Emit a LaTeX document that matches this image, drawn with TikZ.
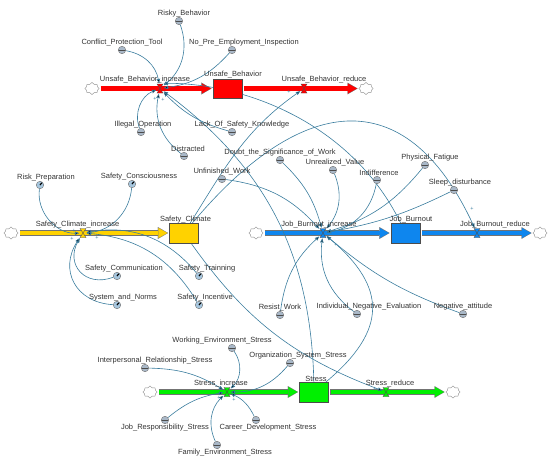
\documentclass[tikz,border=0pt]{standalone}
\usepackage{fontspec}
\setmainfont{Liberation Sans}
\usetikzlibrary{arrows.meta, shapes.symbols}

\definecolor{linkc}{HTML}{3A7D9E}
\definecolor{redc}{HTML}{FF0000}
\definecolor{yelc}{HTML}{FFD200}
\definecolor{bluc}{HTML}{0E86EE}
\definecolor{grnc}{HTML}{00F000}
\definecolor{auxc}{HTML}{A9B8C8}
\definecolor{shdc}{HTML}{A6C6DE}

\pgfdeclarelayer{pipes}
\pgfdeclarelayer{links}
\pgfsetlayers{pipes,links,main}

\tikzset{
  every label/.style={font=\fontsize{7.5}{9}\selectfont, text=black!80, inner sep=0pt},
  auxv/.style={circle, draw=black!55, fill=auxc, line width=0.4pt, minimum size=7.5pt, inner sep=0pt, label distance=5pt,
    path picture={\draw[black!70, line width=0.7pt] (path picture bounding box.west) -- (path picture bounding box.east);}},
  shdw/.style={circle, draw=black!55, fill=shdc, line width=0.4pt, minimum size=7.5pt, inner sep=0pt, label distance=4.5pt,
    path picture={\draw[black, line width=1.2pt] (path picture bounding box.center) -- ++(50:3pt);}},
  stock/.style={rectangle, draw=black!70, fill=#1, line width=0.5pt, minimum width=29pt, minimum height=19.5pt, inner sep=0pt},
  valve/.style={rectangle, inner sep=0pt, minimum width=7pt, minimum height=10pt,
    path picture={\filldraw[fill=#1, draw=black!70, line width=0.4pt]
      ([shift={(-3pt,-4.5pt)}]path picture bounding box.center) -- ++(6pt,0pt) -- ++(-6pt,9pt) -- ++(6pt,0pt) -- cycle;}},
  cloudn/.style={cloud, cloud puffs=8, cloud puff arc=160, aspect=1.2, draw=black!45, line width=0.4pt,
    minimum width=14pt, minimum height=12pt, inner sep=0pt},
  pipe/.style={draw=#1, line width=4.5pt, shorten <=2pt, shorten >=2pt,
    -{Triangle[length=9pt, width=10pt, line width=0.01pt]},
    preaction={draw=black!55, line width=5.5pt, shorten <=1.5pt, shorten >=1.3pt,
      -{Triangle[length=10pt, width=11.6pt, line width=0.01pt]}}},
  link/.style={draw=linkc, line width=0.6pt, -{Stealth[length=4.5pt, width=3.5pt, inset=0.5pt]}},
  pol/.style={font=\fontsize{5.5}{5.5}\selectfont, text=linkc, inner sep=0pt}
}

\begin{document}
\begin{tikzpicture}[x=1pt, y=1pt]
\useasboundingbox (0,0) rectangle (550,-461);

% Unsafe_Behavior chain
\node[cloudn] (c1) at (92,-88.5) {};
\node[stock=redc, label distance=4.5pt, label={[xshift=5.5pt]above:Unsafe\_Behavior}] (ub) at (227.5,-88.5) {};
\node[cloudn] (c2) at (366,-88.5) {};
\node[valve=redc, label distance=9pt, label={[xshift=-15pt]above:Unsafe\_Behavior\_increase}] (ubi) at (160,-88.5) {};
\node[valve=redc, label distance=9pt, label={[xshift=20pt]above:Unsafe\_Behavior\_reduce}] (ubr) at (304,-88.5) {};

% Safety_Climate chain
\node[cloudn] (c3) at (11,-233) {};
\node[stock=yelc, label distance=5pt, label={[xshift=1.5pt]above:Safety\_Climate}] (sc) at (184,-233) {};
\node[valve=yelc, label distance=9.5pt, label={[xshift=-5.5pt]above:Safety\_Climate\_increase}] (sci) at (83,-233) {};

% Job_Burnout chain
\node[cloudn] (c4) at (256,-233) {};
\node[stock=bluc, label distance=5pt, label={[xshift=5.5pt]above:Job\_Burnout}] (jb) at (405.5,-233) {};
\node[cloudn] (c5) at (540,-233) {};
\node[valve=bluc, label distance=9.5pt, label={[xshift=-4pt]above:Job\_Burnout\_increase}] (jbi) at (323,-233) {};
\node[valve=bluc, label distance=9.5pt, label={[xshift=18pt]above:Job\_Burnout\_reduce}] (jbr) at (477,-233) {};

% Stress chain
\node[cloudn] (c6) at (150,-392) {};
\node[stock=grnc, label distance=2pt, label={[xshift=2pt]above:Stress}] (st) at (314,-392) {};
\node[cloudn] (c7) at (453,-392) {};
\node[valve=grnc, label distance=6.5pt, label={[xshift=-6pt]above:Stress\_increase}] (si) at (227,-392) {};
\node[valve=grnc, label distance=6.5pt, label={[xshift=4pt]above:Stress\_reduce}] (sr) at (386,-392) {};

\begin{pgfonlayer}{pipes}
  \draw[pipe=redc] (c1) -- (ub);
  \draw[pipe=redc] (ub) -- (c2);
  \draw[pipe=yelc] (c3) -- (sc);
  \draw[pipe=bluc] (c4) -- (jb);
  \draw[pipe=bluc] (jb) -- (c5);
  \draw[pipe=grnc] (c6) -- (st);
  \draw[pipe=grnc] (st) -- (c7);
\end{pgfonlayer}

% unsafe behavior factors
\node[auxv, label={[xshift=5pt]above:Risky\_Behavior}] (rb) at (179,-21) {};
\node[auxv, label={above:Conflict\_Protection\_Tool}] (cpt) at (122,-50) {};
\node[auxv, label={[xshift=12pt]above:No\_Pre\_Employment\_Inspection}] (npe) at (232,-50) {};
\node[auxv, label={[xshift=2pt]above:Illegal\_Operation}] (io) at (141,-132) {};
\node[auxv, label={[xshift=10pt]above:Lack\_Of\_Safety\_Knowledge}] (lsk) at (232,-132) {};
\node[auxv, label={[xshift=4pt]above:Distracted}] (dis) at (184,-156) {};

% safety climate factors
\node[shdw, label={[xshift=6pt]above:Risk\_Preparation}] (rp) at (40,-185) {};
\node[shdw, label={[xshift=7pt]above:Safety\_Consciousness}] (scs) at (132,-184) {};
\node[shdw, label={[xshift=7pt]above:Safety\_Communication}] (scm) at (117,-276) {};
\node[shdw, label={[xshift=6pt]above:System\_and\_Norms}] (sn) at (117,-305) {};
\node[shdw, label={[xshift=8pt]above:Safety\_Trainning}] (str) at (199,-276) {};
\node[shdw, label={[xshift=6pt]above:Safety\_Incentive}] (sinc) at (199,-305) {};

% job burnout factors
\node[auxv, label={above:Unfinished\_Work}] (uw) at (222,-179) {};
\node[auxv, label={above:Doubt\_the\_Significance\_of\_Work}] (dsw) at (280,-160) {};
\node[auxv, label={[xshift=2pt]above:Unrealized\_Value}] (uv) at (333,-170) {};
\node[auxv, label={[xshift=2pt]above:Indifference}] (ind) at (377,-180) {};
\node[auxv, label={[xshift=5pt]above:Physical\_Fatigue}] (pf) at (425,-165) {};
\node[auxv, label={[xshift=6pt]above:Sleep\_disturbance}] (sd) at (454,-190) {};
\node[auxv, label={above:Resist\_Work}] (rw) at (280,-315) {};
\node[auxv, label={[xshift=12pt]above:Individual\_Negative\_Evaluation}] (ine) at (357,-314) {};
\node[auxv, label={above:Negative\_attitude}] (na) at (463,-314) {};

% stress factors
\node[auxv, label={[xshift=-10pt]above:Working\_Environment\_Stress}] (wes) at (232,-348) {};
\node[auxv, label={[xshift=8pt]above:Organization\_System\_Stress}] (oss) at (290,-363) {};
\node[auxv, label={[xshift=10pt]above:Interpersonal\_Relationship\_Stress}] (irs) at (145,-368) {};
\node[auxv, label={below:Job\_Responsibility\_Stress}] (jrs) at (165,-420) {};
\node[auxv, label distance=3pt, label={[xshift=12pt]below:Career\_Development\_Stress}] (cds) at (256,-420) {};
\node[auxv, label distance=2pt, label={[xshift=8pt]below:Family\_Environment\_Stress}] (fes) at (217,-445) {};

% polarity signs
\foreach \px/\py [count=\i] in {167/84, 155/99, 163/100, 289/92, 74/231, 72/239, 97/238, 336/245, 472/209, 219/398, 234/400, 375/388.5}
  \node[pol] (p\i) at (\px,-\py) {+};

\begin{pgfonlayer}{links}
\path[link]
  % into Unsafe_Behavior_increase
  (cpt) edge[bend left=35] (ubi)
  (rb) edge[bend left=35] (ubi)
  (npe) edge[bend left=20] (ubi)
  (io) edge[bend left=45] (ubi)
  (dis) edge[bend left=32] (ubi)
  (lsk) edge[bend left=15] (ubi)
  (st) edge[bend right=26] (ubi)
  (jb) edge[out=116, in=0, out looseness=1, in looseness=0.8] (ubi.north east)
  % from Safety_Climate
  (sc) edge[out=58, in=-145] (ubr)
  (sc) edge[out=50, in=115, looseness=1.5] (jbr)
  (sc) edge[bend right=17] (sr)
  % into Safety_Climate_increase
  (rp) edge[bend right=50] (sci)
  (scs) edge[bend left=40] (sci)
  (scm) edge[bend left=70, looseness=1.5] (sci)
  (sn) edge[bend left=60, looseness=1.3] (sci)
  (str) edge[bend right=30] (sci)
  (sinc) edge[bend right=27] (sci)
  % into Job_Burnout_increase
  (uw) edge[bend left=20] (jbi)
  (dsw) edge[bend left=15] (jbi)
  (uv) edge[bend left=30] (jbi)
  (ind) edge[bend left=35] (jbi)
  (pf) edge[bend left=17] (jbi)
  (sd) edge[bend left=8] (jbi)
  (rw) edge[bend left=20] (jbi)
  (ine) edge[bend left=30] (jbi)
  (na) edge[bend left=10] (jbi)
  (st) edge[out=40, in=-40, looseness=1.4] (jbi)
  % into Stress_increase
  (wes) edge[bend left=40] (si)
  (irs) edge[bend left=15] (si)
  (oss) edge[bend left=25] (si)
  (jrs) edge[bend left=15] (si)
  (fes) edge[bend left=35] (si)
  (cds) edge[bend right=20] (si);
\end{pgfonlayer}

\end{tikzpicture}
\end{document}
